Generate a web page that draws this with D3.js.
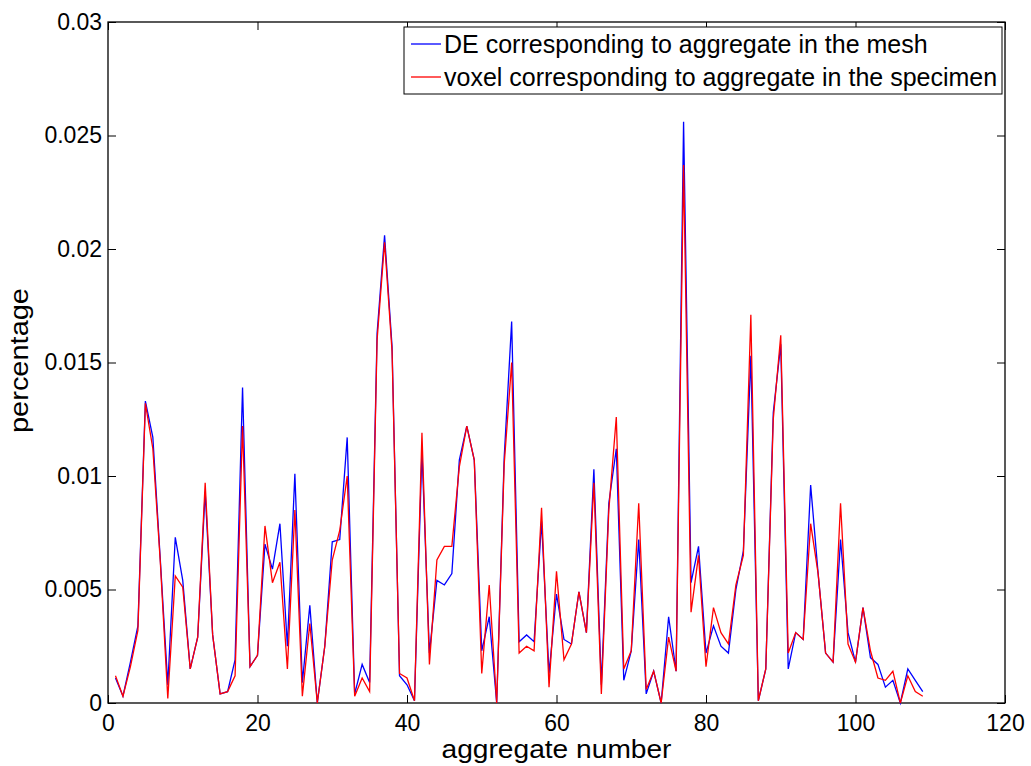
<!DOCTYPE html>
<html>
<head>
<meta charset="utf-8">
<script src="https://cdn.jsdelivr.net/npm/d3@7"></script>
<style>
  body { margin: 0; background: #fff; }
  text { font-family: "Liberation Sans", Arial, sans-serif; fill: #000; }
</style>
</head>
<body>
<div id="chart"></div>
<script>
// aggregate numbers 1..109
var aggregates = d3.range(1, 110);

// DE corresponding to aggregate in the mesh
var meshValues = [
  0.0011, 0.0003, 0.0018, 0.0034, 0.0133, 0.0117, 0.0063, 0.0008, 0.0073, 0.0054,
  0.0015, 0.0029, 0.0093, 0.0030, 0.0004, 0.0005, 0.0019, 0.0139, 0.0016, 0.0021,
  0.0070, 0.0059, 0.0079, 0.0025, 0.0101, 0.0009, 0.0043, 0.0000, 0.0025, 0.0071,
  0.0072, 0.0117, 0.0004, 0.0017, 0.0009, 0.0163, 0.0206, 0.0157, 0.0012, 0.0008,
  0.0001, 0.0111, 0.0022, 0.0054, 0.0052, 0.0057, 0.0107, 0.0122, 0.0107, 0.0023,
  0.0038, 0.0000, 0.0108, 0.0168, 0.0027, 0.0030, 0.0027, 0.0080, 0.0013, 0.0048,
  0.0028, 0.0026, 0.0049, 0.0031, 0.0103, 0.0008, 0.0088, 0.0112, 0.0010, 0.0023,
  0.0072, 0.0004, 0.0014, 0.0000, 0.0038, 0.0014, 0.0256, 0.0053, 0.0069, 0.0022,
  0.0034, 0.0025, 0.0022, 0.0050, 0.0067, 0.0153, 0.0001, 0.0015, 0.0128, 0.0158,
  0.0015, 0.0031, 0.0028, 0.0096, 0.0057, 0.0022, 0.0018, 0.0072, 0.0031, 0.0018,
  0.0042, 0.0020, 0.0017, 0.0007, 0.0010, 0.0000, 0.0015, 0.0010, 0.0005
];

// voxel corresponding to aggregate in the specimen
var voxelValues = [
  0.0012, 0.0003, 0.0016, 0.0032, 0.0132, 0.0112, 0.0062, 0.0002, 0.0056, 0.0051,
  0.0015, 0.0029, 0.0097, 0.0030, 0.0004, 0.0005, 0.0012, 0.0122, 0.0016, 0.0021,
  0.0078, 0.0053, 0.0062, 0.0015, 0.0085, 0.0003, 0.0035, 0.0000, 0.0025, 0.0063,
  0.0076, 0.0100, 0.0003, 0.0011, 0.0005, 0.0160, 0.0203, 0.0155, 0.0013, 0.0011,
  0.0001, 0.0119, 0.0017, 0.0063, 0.0069, 0.0069, 0.0104, 0.0122, 0.0107, 0.0013,
  0.0052, 0.0000, 0.0105, 0.0150, 0.0022, 0.0025, 0.0023, 0.0086, 0.0007, 0.0058,
  0.0019, 0.0026, 0.0049, 0.0031, 0.0097, 0.0004, 0.0085, 0.0126, 0.0015, 0.0023,
  0.0088, 0.0006, 0.0014, 0.0000, 0.0029, 0.0014, 0.0237, 0.0040, 0.0065, 0.0016,
  0.0042, 0.0031, 0.0026, 0.0052, 0.0065, 0.0171, 0.0001, 0.0015, 0.0125, 0.0162,
  0.0022, 0.0031, 0.0028, 0.0079, 0.0057, 0.0022, 0.0018, 0.0088, 0.0026, 0.0018,
  0.0042, 0.0023, 0.0011, 0.0010, 0.0014, 0.0000, 0.0012, 0.0005, 0.0003
];

var xTicks = [0, 20, 40, 60, 80, 100, 120];
var yTicks = [0, 0.005, 0.01, 0.015, 0.02, 0.025, 0.03];
var seriesNames = ["DE corresponding to aggregate in the mesh",
                   "voxel corresponding to aggregate in the specimen"];
var seriesColors = ["#0000ff", "#ff0000"];

var margin = { top: 22, right: 26, bottom: 63, left: 108 };
var width = 1031 - margin.left - margin.right,
    height = 766 - margin.top - margin.bottom;

var svg = d3.select("#chart").append("svg")
    .attr("width", 1031)
    .attr("height", 766);

var g = svg.append("g")
    .attr("transform", "translate(" + margin.left + "," + margin.top + ")");

var x = d3.scaleLinear().domain([0, 120]).range([0, width]);
var y = d3.scaleLinear().domain([0, 0.03]).range([height, 0]);

var fmt = function(d) { return d === 0 ? "0" : String(+d.toFixed(3)); };

// axes, matlab style: ticks inside, mirrored on top/right
var xAxis = d3.axisBottom(x).tickValues(xTicks).tickSize(-8).tickPadding(12).tickFormat(fmt);
var yAxis = d3.axisLeft(y).tickValues(yTicks).tickSize(-8).tickPadding(6).tickFormat(fmt);

g.append("g").attr("class", "x-axis")
    .attr("transform", "translate(0," + height + ")")
    .call(xAxis);
g.append("g").attr("class", "y-axis")
    .call(yAxis);
g.append("g").attr("class", "x-top")
    .call(d3.axisTop(x).tickValues(xTicks).tickSize(-8).tickFormat(""));
g.append("g").attr("class", "y-right")
    .attr("transform", "translate(" + width + ",0)")
    .call(d3.axisRight(y).tickValues(yTicks).tickSize(-8).tickFormat(""));

g.selectAll(".domain").remove();
g.selectAll(".tick line").attr("stroke", "#000").attr("stroke-width", 1);
g.selectAll(".x-axis text, .y-axis text")
    .style("font-size", "23px")
    .style("font-family", "'Liberation Sans', Arial, sans-serif");

g.append("rect")
    .attr("width", width).attr("height", height)
    .attr("fill", "none").attr("stroke", "#000").attr("stroke-width", 1.3);

// lines
var line = d3.line()
    .x(function(d, i) { return x(aggregates[i]); })
    .y(function(d) { return y(d); });

[meshValues, voxelValues].forEach(function(vals, k) {
    g.append("path")
        .datum(vals)
        .attr("fill", "none")
        .attr("stroke", seriesColors[k])
        .attr("stroke-width", 1.3)
        .attr("d", line);
});

// axis labels
g.append("text")
    .attr("x", width / 2)
    .attr("y", height + 55)
    .attr("text-anchor", "middle")
    .attr("textLength", 230)
    .attr("lengthAdjust", "spacingAndGlyphs")
    .style("font-size", "25px")
    .text("aggregate number");

g.append("text")
    .attr("transform", "translate(" + (-80) + "," + (height / 2 - 2) + ") rotate(-90)")
    .attr("text-anchor", "middle")
    .attr("textLength", 145)
    .attr("lengthAdjust", "spacingAndGlyphs")
    .style("font-size", "25px")
    .text("percentage");

// legend
var legend = g.append("g").attr("transform", "translate(" + (x(0) + 296) + ",5)");
legend.append("rect")
    .attr("width", 598).attr("height", 67)
    .attr("fill", "#fff").attr("stroke", "#000").attr("stroke-width", 1);

seriesNames.forEach(function(name, k) {
    var ly = 17 + k * 33;
    legend.append("line")
        .attr("x1", 7).attr("x2", 37)
        .attr("y1", ly).attr("y2", ly)
        .attr("stroke", seriesColors[k]).attr("stroke-width", 1.3);
    legend.append("text")
        .attr("x", 40).attr("y", ly + 9)
        .style("font-size", "25px")
        .text(name);
});
</script>
</body>
</html>
